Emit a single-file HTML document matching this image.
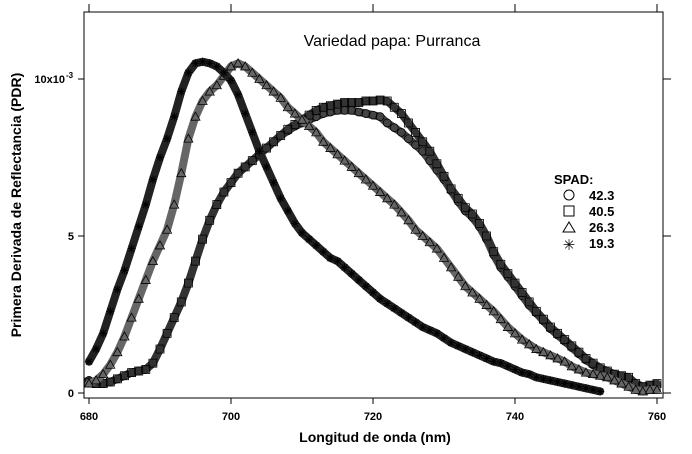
<!DOCTYPE html>
<html><head><meta charset="utf-8"><style>
body{margin:0;background:#fff;}
svg text{font-family:"Liberation Sans",Arial,sans-serif;}
</style></head><body>
<svg id="chart" width="692" height="449" viewBox="0 0 692 449" xmlns="http://www.w3.org/2000/svg">
<rect x="84" y="12" width="579" height="386" fill="none" stroke="#000" stroke-width="1"/>
<g id="axes"></g>
<g id="series"></g>
<text x="392" y="46" font-size="16" text-anchor="middle">Variedad papa: Purranca</text>
<text transform="translate(21,205) rotate(-90)" font-size="14" font-weight="bold" text-anchor="middle">Primera Derivada de Reflectancia (PDR)</text>
<text x="375" y="442" font-size="14" font-weight="bold" text-anchor="middle">Longitud de onda (nm)</text>
<g id="legend">
<text x="554" y="184" font-size="13" font-weight="bold">SPAD:</text>
<g><circle cx="569" cy="195" r="5" fill="none" stroke="#000"/><text x="589" y="200" font-size="13" font-weight="bold">42.3</text></g>
<g><rect x="564" y="206" width="10" height="10" fill="none" stroke="#000"/><text x="589" y="216" font-size="13" font-weight="bold">40.5</text></g>
<g><path d="M569,222 L575,232 L563,232 Z" fill="none" stroke="#000"/><text x="589" y="232" font-size="13" font-weight="bold">26.3</text></g>
<g><text x="569" y="250" font-size="15" text-anchor="middle">✳</text><text x="589" y="248" font-size="13" font-weight="bold">19.3</text></g>
</g>
</svg>
<script>
const xTicks=[680,700,720,740,760];
const yTicks=[0,5,10];
const yTickLabels=["0","5","10x10"];
const wlStart=680;
const spad423=[0.4,0.3,0.3,0.35,0.45,0.55,0.65,0.7,0.75,0.95,1.4,1.9,2.4,2.9,3.5,4.2,4.9,5.5,6.0,6.4,6.7,7.0,7.2,7.4,7.6,7.8,8.0,8.2,8.35,8.5,8.6,8.7,8.8,8.9,8.95,9.0,9.0,9.0,8.95,8.9,8.85,8.8,8.6,8.45,8.3,8.1,7.9,7.7,7.4,7.1,6.8,6.45,6.1,5.8,5.6,5.3,4.9,4.4,4.0,3.7,3.4,3.1,2.8,2.55,2.3,2.05,1.85,1.65,1.45,1.25,1.05,0.9,0.75,0.65,0.55,0.5,0.45,0.3,0.2,0.2,0.25];
const spad405=[0.35,0.3,0.3,0.35,0.45,0.55,0.65,0.7,0.75,0.95,1.4,1.9,2.4,2.9,3.5,4.2,4.9,5.5,6.0,6.4,6.7,7.0,7.2,7.4,7.6,7.8,8.0,8.2,8.4,8.55,8.7,8.85,9.0,9.1,9.15,9.2,9.25,9.25,9.25,9.3,9.3,9.33,9.3,9.1,8.9,8.6,8.3,8.0,7.7,7.3,6.9,6.5,6.2,5.9,5.7,5.4,5.0,4.5,4.1,3.8,3.5,3.2,2.9,2.6,2.35,2.1,1.9,1.7,1.5,1.3,1.1,0.95,0.8,0.7,0.6,0.55,0.5,0.3,0.2,0.25,0.3];
const spad263=[0.3,0.4,0.6,0.9,1.3,1.8,2.4,3.0,3.6,4.2,4.7,5.2,6.0,7.0,8.1,8.8,9.3,9.6,9.8,10.1,10.4,10.5,10.4,10.2,10.0,9.8,9.6,9.4,9.1,8.9,8.7,8.5,8.3,8.0,7.8,7.6,7.4,7.2,7.0,6.8,6.6,6.4,6.2,6.0,5.75,5.5,5.2,5.0,4.8,4.6,4.3,4.0,3.7,3.4,3.2,3.0,2.8,2.6,2.35,2.1,1.9,1.7,1.55,1.4,1.3,1.2,1.1,1.0,0.85,0.75,0.65,0.6,0.55,0.5,0.4,0.3,0.2,0.1,0.05,0.1,0.1];
const spad193=[1.0,1.4,1.9,2.6,3.3,3.9,4.6,5.3,6.0,6.8,7.5,8.1,8.8,9.6,10.2,10.5,10.55,10.5,10.4,10.2,9.95,9.5,8.9,8.3,7.7,7.2,6.7,6.2,5.8,5.4,5.1,4.9,4.7,4.5,4.3,4.2,4.0,3.8,3.6,3.4,3.2,3.0,2.85,2.7,2.55,2.4,2.25,2.1,2.0,1.9,1.75,1.6,1.5,1.4,1.3,1.2,1.1,1.0,0.95,0.85,0.75,0.65,0.6,0.5,0.45,0.4,0.35,0.3,0.25,0.2,0.15,0.1,0.05];
const NS="http://www.w3.org/2000/svg";
function xs(w){return 89+(w-680)*7.1;}
function ys(v){return 393-v*31.4;}
const axes=document.getElementById('axes');
function mk(tag,attrs,parent){const e=document.createElementNS(NS,tag);for(const k in attrs)e.setAttribute(k,attrs[k]);parent.appendChild(e);return e;}
xTicks.forEach(t=>{
  const x=xs(t);
  const l=mk('line',{x1:x,y1:398,x2:x,y2:404,stroke:'#000'},axes);
  
  
  const l2=mk('line',{x1:x,y1:12,x2:x,y2:4,stroke:'#000'},axes);
  
  
  const tx=mk('text',{x:x,y:420,'font-size':11,'font-weight':'bold','text-anchor':'middle'},axes);
  tx.textContent=t;
  
  
});
yTicks.forEach((t,i)=>{
  const y=ys(t);
  const l=mk('line',{x1:78,y1:y,x2:84,y2:y,stroke:'#000'},axes);
  
  
  const l2=mk('line',{x1:663,y1:y,x2:671,y2:y,stroke:'#000'},axes);
  
  
  const tx=mk('text',{x:i==2?65:74,y:y+4,'font-size':11,'font-weight':'bold','text-anchor':'end'},axes);
  tx.textContent=yTickLabels[i];
  
  
  if(i==2){const s=mk('text',{x:66,y:y-1,'font-size':8,'font-weight':'bold'},axes);s.textContent='-3';
  
  }
});
const sg=document.getElementById('series');
function drawSeries(arr,name,shape,col){
  const g=mk('g',{},sg);
  
  
  const pts=arr.map((v,i)=>xs(wlStart+i)+','+ys(v)).join(' ');
  mk('polyline',{points:pts,fill:'none',stroke:col,'stroke-width':8,'stroke-linejoin':'round','stroke-linecap':'round'},g);
  arr.forEach((v,i)=>{
    const x=xs(wlStart+i),y=ys(v);
    let m;
    if(shape=='circle')m=mk('circle',{cx:x,cy:y,r:4,fill:'none',stroke:'#000','stroke-width':0.8},g);
    else if(shape=='square')m=mk('rect',{x:x-4,y:y-4,width:8,height:8,fill:'none',stroke:'#000','stroke-width':0.8},g);
    else if(shape=='tri')m=mk('path',{d:`M${x},${y-4.5}L${x+4.5},${y+3.5}L${x-4.5},${y+3.5}Z`,fill:'none',stroke:'#000','stroke-width':0.8},g);
    else m=mk('path',{d:`M${x-4},${y}L${x+4},${y}M${x},${y-4}L${x},${y+4}M${x-3},${y-3}L${x+3},${y+3}M${x-3},${y+3}L${x+3},${y-3}`,stroke:'#000','stroke-width':1},g);
    
    
  });
}
drawSeries(spad423,'series-42-3','circle','#444');
drawSeries(spad405,'series-40-5','square','#333');
drawSeries(spad263,'series-26-3','tri','#666');
drawSeries(spad193,'series-19-3','star','#222');
</script>
</body></html>
